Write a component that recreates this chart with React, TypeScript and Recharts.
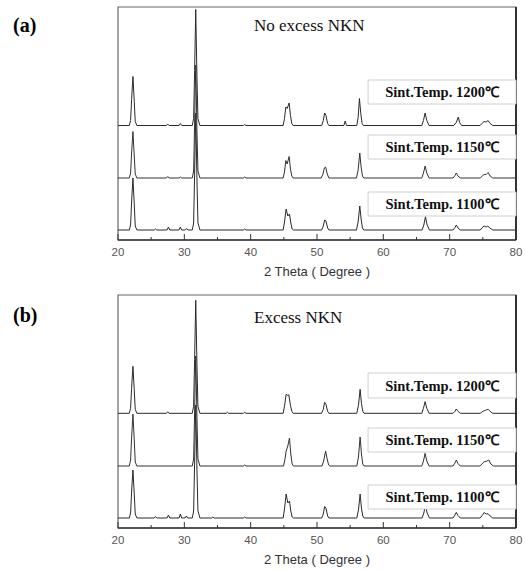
import React from "react";
import { LineChart, Line, XAxis, YAxis, ReferenceArea, ReferenceLine } from "recharts";

// 2-theta tick positions (degrees); labels only on multiples of 10
const xTicks = [20, 25, 30, 35, 40, 45, 50, 55, 60, 65, 70, 75, 80];
const xDomain = [20, 80];
const yDomain = [0, 233];

const seriesNames = ["Sint.Temp. 1100℃", "Sint.Temp. 1150℃", "Sint.Temp. 1200℃"];

// vertical offsets (a.u.) of the stacked patterns: 1100, 1150, 1200
const offsetsA = [10, 62, 114.5];
const offsetsB = [10, 62, 114.7];

// label box extents (2theta start, a.u. low, a.u. high) for 1100, 1150, 1200
const boxStart = 57.7;
const boxLowA = [24, 81, 136];
const boxHighA = [48, 105, 160];
const boxLowB = [19, 76, 130];
const boxHighB = [43, 100, 155];

// ---- Panel (a): No excess NKN  [2theta, intensity a.u.] ----
const a1200 = [
  [20, 0], [21.7, 0], [21.9, 5], [22.05, 26], [22.25, 49], [22.45, 24], [22.6, 4], [22.85, 0],
  [27.3, 0], [27.5, 1.5], [27.7, 0], [29.2, 0], [29.4, 2], [29.6, 0],
  [31.2, 0], [31.4, 7], [31.55, 55], [31.72, 116], [31.9, 50], [32.05, 7], [32.35, 0],
  [38.9, 0], [39.1, 1], [39.3, 0],
  [44.9, 0], [45.1, 7], [45.3, 18.5], [45.5, 17], [45.8, 22.5], [46.0, 10], [46.2, 2], [46.4, 0],
  [50.7, 0], [50.95, 5], [51.15, 12.5], [51.35, 10], [51.6, 2], [51.8, 0],
  [54.05, 0], [54.25, 4.5], [54.45, 0],
  [56.0, 0], [56.2, 8], [56.4, 27], [56.6, 12], [56.8, 2], [57.0, 0],
  [65.8, 0], [66.05, 5], [66.3, 12.5], [66.55, 5], [66.9, 0],
  [70.6, 0], [71.0, 3], [71.3, 8.5], [71.5, 3], [71.8, 0],
  [74.6, 0], [75.0, 3], [75.2, 4], [75.5, 3.5], [75.8, 5], [76.1, 2], [76.5, 0], [80, 0],
];
const a1150 = [
  [20, 0], [21.7, 0], [21.9, 5], [22.05, 25], [22.25, 46.5], [22.45, 22], [22.6, 4], [22.85, 0],
  [27.3, 0], [27.5, 1.5], [27.7, 0], [29.2, 0], [29.4, 1], [29.6, 0],
  [31.2, 0], [31.4, 7], [31.55, 54], [31.72, 113], [31.9, 48], [32.05, 7], [32.35, 0],
  [38.9, 0], [39.1, 1], [39.3, 0],
  [44.9, 0], [45.1, 6], [45.3, 17.5], [45.5, 14], [45.8, 21.5], [46.0, 9], [46.2, 2], [46.4, 0],
  [50.65, 0], [50.9, 4], [51.1, 10], [51.3, 11], [51.55, 4], [51.8, 0],
  [55.95, 0], [56.2, 8], [56.45, 25], [56.65, 11], [56.85, 2], [57.05, 0],
  [65.8, 0], [66.05, 5], [66.3, 12], [66.55, 5], [66.9, 0],
  [70.5, 0], [70.8, 2.5], [71.0, 5], [71.25, 2], [71.6, 0],
  [74.6, 0], [75.0, 2.5], [75.2, 3.5], [75.5, 3.5], [75.8, 5.5], [76.1, 2], [76.5, 0], [80, 0],
];
const a1100 = [
  [20, 0], [21.7, 0], [21.9, 5], [22.05, 28], [22.25, 52], [22.45, 26], [22.6, 4], [22.85, 0],
  [25.45, 0], [25.65, 1], [25.85, 0], [27.4, 0], [27.6, 3], [27.8, 0],
  [29.2, 0], [29.4, 3], [29.6, 0], [30.15, 0], [30.35, 1.5], [30.55, 0],
  [31.2, 0], [31.4, 7], [31.55, 56], [31.72, 117], [31.9, 52], [32.05, 7], [32.35, 0],
  [38.9, 0], [39.1, 1], [39.3, 0],
  [44.9, 0], [45.1, 8], [45.35, 21], [45.6, 14], [45.85, 16], [46.05, 7], [46.25, 1], [46.45, 0],
  [50.7, 0], [50.95, 4], [51.15, 10], [51.35, 9], [51.6, 2], [51.8, 0],
  [55.95, 0], [56.2, 8], [56.45, 24], [56.65, 11], [56.85, 2], [57.05, 0],
  [65.85, 0], [66.1, 5], [66.35, 13.3], [66.6, 5], [66.95, 0],
  [70.5, 0], [70.8, 2.5], [71.0, 5], [71.25, 2], [71.6, 0],
  [74.6, 0], [75.0, 3], [75.2, 4], [75.5, 3], [75.75, 4], [76.05, 2], [76.5, 0], [80, 0],
];

// ---- Panel (b): Excess NKN  [2theta, intensity a.u.] ----
const b1200 = [
  [20, 0], [21.7, 0], [21.9, 5], [22.05, 25], [22.25, 47], [22.45, 23], [22.6, 4], [22.85, 0],
  [27.3, 0], [27.5, 1.5], [27.7, 0],
  [31.2, 0], [31.4, 7], [31.55, 54], [31.72, 113], [31.9, 50], [32.05, 7], [32.35, 0],
  [36.3, 0], [36.5, 1], [36.7, 0], [38.9, 0], [39.1, 1], [39.3, 0],
  [44.9, 0], [45.1, 7], [45.35, 19], [45.55, 18], [45.75, 18.5], [46.0, 8], [46.2, 2], [46.4, 0],
  [50.7, 0], [50.95, 4], [51.15, 11], [51.35, 9], [51.6, 2], [51.8, 0],
  [56.0, 0], [56.25, 8], [56.5, 24], [56.7, 10], [56.9, 2], [57.1, 0],
  [65.8, 0], [66.05, 5], [66.3, 11.7], [66.55, 5], [66.9, 0],
  [70.5, 0], [70.8, 2], [71.0, 4.3], [71.25, 2], [71.6, 0],
  [74.6, 0], [75.0, 2], [75.3, 2.7], [75.55, 3.5], [75.8, 4], [76.1, 2], [76.5, 0], [80, 0],
];
const b1150 = [
  [20, 0], [21.7, 0], [21.9, 6], [22.05, 28], [22.25, 52], [22.45, 26], [22.6, 4], [22.85, 0],
  [31.2, 0], [31.4, 7], [31.55, 54], [31.72, 110], [31.9, 50], [32.05, 7], [32.35, 0],
  [38.9, 0], [39.1, 1], [39.3, 0],
  [44.95, 0], [45.15, 6], [45.35, 15], [45.6, 20], [45.85, 28], [46.05, 12], [46.25, 2], [46.45, 0],
  [50.75, 0], [51.0, 5], [51.3, 15], [51.5, 8], [51.75, 1], [51.95, 0],
  [56.0, 0], [56.25, 9], [56.5, 29], [56.7, 12], [56.9, 2], [57.1, 0],
  [65.8, 0], [66.05, 5], [66.3, 12.7], [66.55, 5], [66.9, 0],
  [70.5, 0], [70.8, 3], [71.0, 6], [71.25, 2.5], [71.6, 0],
  [74.6, 0], [75.0, 3], [75.2, 4.3], [75.5, 4.5], [75.9, 6], [76.2, 2], [76.6, 0], [80, 0],
];
const b1100 = [
  [20, 0], [21.7, 0], [21.9, 5], [22.05, 26], [22.25, 48], [22.45, 24], [22.6, 4], [22.85, 0],
  [25.45, 0], [25.65, 1.5], [25.85, 0], [27.4, 0], [27.6, 3], [27.8, 0],
  [29.2, 0], [29.4, 4], [29.6, 0], [30.1, 0], [30.3, 2], [30.5, 0],
  [31.2, 0], [31.4, 7], [31.55, 55], [31.72, 113], [31.9, 50], [32.05, 7], [32.35, 0],
  [34.1, 0], [34.3, 1], [34.5, 0], [38.9, 0], [39.1, 1], [39.3, 0],
  [44.9, 0], [45.1, 9], [45.35, 24], [45.6, 15], [45.85, 17], [46.05, 7], [46.25, 1], [46.45, 0],
  [50.7, 0], [50.95, 4], [51.15, 11.5], [51.35, 10], [51.6, 2], [51.8, 0],
  [56.0, 0], [56.25, 8], [56.5, 24], [56.7, 10], [56.9, 2], [57.1, 0],
  [65.85, 0], [66.1, 5], [66.35, 13], [66.6, 5], [66.95, 0],
  [70.5, 0], [70.8, 3], [71.0, 5.6], [71.25, 2.5], [71.6, 0],
  [74.6, 0], [75.0, 3.5], [75.2, 5.5], [75.5, 4], [75.8, 4.3], [76.1, 2], [76.5, 0], [80, 0],
];

const build = (pts: number[][], off: number) => pts.map(([t, i]) => ({ t, y: i + off }));

const SERIF = "'Liberation Serif', 'Times New Roman', serif";
const SANS = "'Liberation Sans', Arial, sans-serif";

const XTick = (props: any) => {
  const { x, y, payload } = props;
  const v = payload.value;
  const major = v % 10 === 0;
  return (
    <g>
      <line x1={x} x2={x} y1={y} y2={y - (major ? 6 : 3)} stroke="#333" strokeWidth={1} />
      {major && (
        <text x={x} y={y + 16} textAnchor="middle" fontSize={11.5} fontFamily={SANS} fill="#555">
          {v}
        </text>
      )}
    </g>
  );
};

const Panel = ({ series, offsets, lows, highs }: any) => {
  const colors = ["#2a2a2a", "#333333", "#2a2a2a"];
  return (
    <LineChart width={526} height={285} margin={{ top: 7, right: 10, bottom: 5, left: 118 }}>
      <XAxis
        dataKey="t"
        type="number"
        domain={xDomain}
        ticks={xTicks}
        interval={0}
        allowDataOverflow
        tickSize={0}
        tickMargin={0}
        tick={<XTick />}
        height={40}
        axisLine={{ stroke: "#333", strokeWidth: 1.5 }}
        tickLine={false}
        label={{ value: "2 Theta ( Degree )", position: "insideBottom", offset: 4, fontSize: 13, fontFamily: SANS, fill: "#333" }}
      />
      <YAxis hide type="number" domain={yDomain} allowDataOverflow />
      {series.map((s: number[][], k: number) => (
        <Line
          key={k}
          data={build(s, offsets[k])}
          dataKey="y"
          type="linear"
          dot={false}
          stroke={colors[k]}
          strokeWidth={1}
          isAnimationActive={false}
        />
      ))}
      <ReferenceArea x1={20} x2={80} y1={0} y2={233} fill="none" stroke="#666" strokeWidth={1.2} />
      <ReferenceLine x={80} stroke="#333" strokeWidth={2} />
      {seriesNames.map((n, k) => (
        <ReferenceArea
          key={n}
          x1={boxStart}
          x2={80}
          y1={lows[k]}
          y2={highs[k]}
          fill="#fff"
          fillOpacity={1}
          stroke="#d0d0d0"
          strokeWidth={1}
          zIndex={1000}
          label={{ value: n, position: "center", fontSize: 14.5, fontWeight: "bold", fontFamily: SERIF, fill: "#111" }}
        />
      ))}
    </LineChart>
  );
};

export default function App() {
  return (
    <div style={{ position: "fixed", left: 0, top: 0, width: 526, height: 570, background: "#fff" }}>
      <div style={{ position: "absolute", left: 0, top: 0 }}>
        <Panel series={[a1100, a1150, a1200]} offsets={offsetsA} lows={boxLowA} highs={boxHighA} />
      </div>
      <div style={{ position: "absolute", left: 0, top: 288 }}>
        <Panel series={[b1100, b1150, b1200]} offsets={offsetsB} lows={boxLowB} highs={boxHighB} />
      </div>
      <div style={{ position: "absolute", left: 13, top: 14, fontFamily: SERIF, fontWeight: "bold", fontSize: 20, lineHeight: "22px" }}>(a)</div>
      <div style={{ position: "absolute", left: 13, top: 304, fontFamily: SERIF, fontWeight: "bold", fontSize: 20, lineHeight: "22px" }}>(b)</div>
      <div style={{ position: "absolute", left: 254, top: 17, fontFamily: SERIF, fontSize: 17, lineHeight: "18px", color: "#111" }}>No excess NKN</div>
      <div style={{ position: "absolute", left: 254, top: 309, fontFamily: SERIF, fontSize: 17, lineHeight: "18px", color: "#111" }}>Excess NKN</div>
    </div>
  );
}
